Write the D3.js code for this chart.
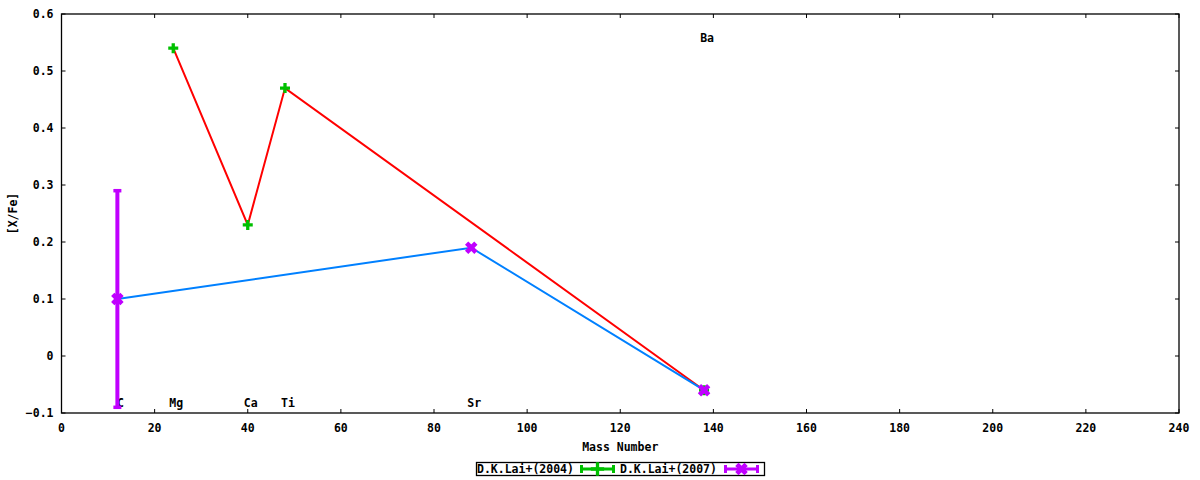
<!DOCTYPE html>
<html>
<head>
  <meta charset="utf-8">
  <script src="https://d3js.org/d3.v7.min.js"></script>
  <style>
    body { margin: 0; background: #fff; }
    text { font-family: "DejaVu Sans Mono", monospace; font-weight: bold; font-size: 11.5px; fill: #000; }
  </style>
</head>
<body>
<div id="chart"></div>
<script>
  // element labels
  const elements = ["C", "Mg", "Ca", "Ti", "Sr", "Ba"];
  const elementMass = [12, 24, 40, 48, 88, 138];
  const elementLabelY = [-0.082, -0.082, -0.082, -0.082, -0.082, 0.558];

  // D.K.Lai+(2004)
  const lai2004Mass = [24, 40, 48, 138];
  const lai2004Val = [0.54, 0.23, 0.47, -0.06];

  // D.K.Lai+(2007)
  const lai2007Mass = [12, 88, 138];
  const lai2007Val = [0.10, 0.19, -0.06];
  const lai2007Err = [0.19, 0, 0];

  const xTicks = d3.range(0, 241, 20);
  const yTicks = [-0.1, 0, 0.1, 0.2, 0.3, 0.4, 0.5, 0.6];

  const width = 1200, height = 480;
  const margin = { top: 14, right: 21, bottom: 67, left: 61.5 };

  const svg = d3.select("#chart").append("svg")
    .attr("width", width).attr("height", height);

  const x = d3.scaleLinear().domain([0, 240]).range([margin.left, width - margin.right]);
  const y = d3.scaleLinear().domain([-0.1, 0.6]).range([height - margin.bottom, margin.top]);

  const green = "#00c000", purple = "#c000ff", red = "#ff0000", blue = "#0080ff";

  // ticks (inward, mirrored)
  const g = svg.append("g").attr("stroke", "#000").attr("stroke-width", 1);
  xTicks.forEach(t => {
    g.append("line").attr("x1", x(t)).attr("x2", x(t)).attr("y1", y(-0.1)).attr("y2", y(-0.1) - 4);
    g.append("line").attr("x1", x(t)).attr("x2", x(t)).attr("y1", y(0.6)).attr("y2", y(0.6) + 4);
  });
  yTicks.forEach(t => {
    g.append("line").attr("x1", x(0)).attr("x2", x(0) + 4).attr("y1", y(t)).attr("y2", y(t));
    g.append("line").attr("x1", x(240)).attr("x2", x(240) - 4).attr("y1", y(t)).attr("y2", y(t));
  });

  svg.selectAll(".xt").data(xTicks).join("text")
    .attr("x", d => x(d)).attr("y", y(-0.1) + 19)
    .attr("text-anchor", "middle").text(d => d);
  svg.selectAll(".yt").data(yTicks).join("text")
    .attr("x", x(0) - 8).attr("y", d => y(d)).attr("dy", "0.35em")
    .attr("text-anchor", "end").text(d => d === 0 ? "0" : d3.format(".1f")(d));

  svg.append("text").attr("x", (x(0) + x(240)) / 2).attr("y", 451)
    .attr("text-anchor", "middle").text("Mass Number");
  svg.append("text").attr("transform", `translate(17,${(y(-0.1) + y(0.6)) / 2}) rotate(-90)`)
    .attr("text-anchor", "middle").text("[X/Fe]");

  // element labels
  svg.selectAll(".el").data(elements).join("text")
    .attr("x", (d, i) => x(elementMass[i]) + 3)
    .attr("y", (d, i) => y(elementLabelY[i])).attr("dy", "0.35em")
    .attr("text-anchor", "middle").text(d => d);

  // connecting lines
  const line = d3.line().x(d => x(d[0])).y(d => y(d[1]));
  svg.append("path").attr("d", line(d3.zip(lai2004Mass, lai2004Val)))
    .attr("fill", "none").attr("stroke", red).attr("stroke-width", 2);
  svg.append("path").attr("d", line(d3.zip(lai2007Mass, lai2007Val)))
    .attr("fill", "none").attr("stroke", blue).attr("stroke-width", 2);

  // error bars
  lai2007Mass.forEach((m, i) => {
    const e = lai2007Err[i];
    if (!e) return;
    const lo = y(lai2007Val[i] - e), hi = y(lai2007Val[i] + e);
    svg.append("line").attr("x1", x(m)).attr("x2", x(m)).attr("y1", lo).attr("y2", hi)
      .attr("stroke", purple).attr("stroke-width", 4);
    [lo, hi].forEach(v => svg.append("line")
      .attr("x1", x(m) - 4).attr("x2", x(m) + 4).attr("y1", v).attr("y2", v)
      .attr("stroke", purple).attr("stroke-width", 3.5));
  });

  const plusPath = "M-5,0H5M0,-5V5";
  const crossPath = "M-3,-3L3,3M-3,3L3,-3";

  svg.selectAll(".p04").data(lai2004Mass).join("path")
    .attr("transform", (d, i) => `translate(${x(d)},${y(lai2004Val[i])})`)
    .attr("d", plusPath).attr("stroke", green).attr("stroke-width", 3.3).attr("fill", "none");
  svg.selectAll(".p07").data(lai2007Mass).join("path")
    .attr("transform", (d, i) => `translate(${x(d)},${y(lai2007Val[i])})`)
    .attr("d", crossPath).attr("stroke", purple).attr("stroke-width", 4.6)
    .attr("stroke-linecap", "square").attr("fill", "none");

  // border
  svg.append("rect").attr("x", x(0)).attr("y", y(0.6))
    .attr("width", x(240) - x(0)).attr("height", y(-0.1) - y(0.6))
    .attr("fill", "none").attr("stroke", "#000").attr("stroke-width", 1.3);

  // legend
  const leg = svg.append("g");
  leg.append("rect").attr("x", 476.5).attr("y", 462.5).attr("width", 288).attr("height", 13)
    .attr("fill", "none").attr("stroke", "#000").attr("stroke-width", 1.3);
  const entries = [
    { name: "D.K.Lai+(2004)", color: green, tx: 477, sx: 580, mark: plusPath, sw: 3.3 },
    { name: "D.K.Lai+(2007)", color: purple, tx: 620, sx: 724, mark: crossPath, sw: 4.6 }
  ];
  entries.forEach(e => {
    leg.append("text").attr("x", e.tx).attr("y", 469).attr("dy", "0.35em").text(e.name);
    leg.append("line").attr("x1", e.sx).attr("x2", e.sx + 35).attr("y1", 469).attr("y2", 469)
      .attr("stroke", e.color).attr("stroke-width", 3);
    [e.sx + 1.5, e.sx + 33.5].forEach(cx => leg.append("line")
      .attr("x1", cx).attr("x2", cx).attr("y1", 465).attr("y2", 473)
      .attr("stroke", e.color).attr("stroke-width", 3));
    leg.append("path").attr("transform", `translate(${e.sx + 17.5},469)`)
      .attr("d", e.mark).attr("stroke", e.color).attr("stroke-width", e.sw)
      .attr("stroke-linecap", "square").attr("fill", "none");
  });
</script>
</body>
</html>
